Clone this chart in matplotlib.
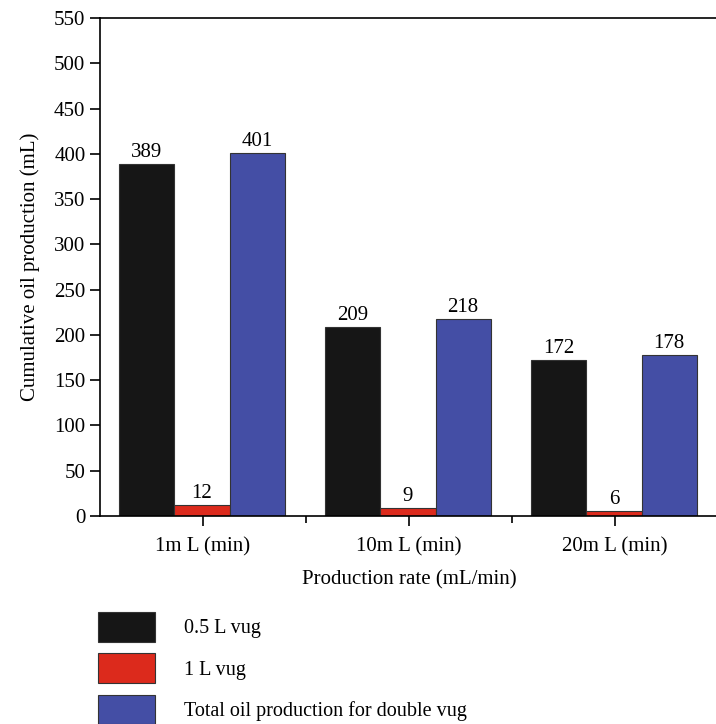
import matplotlib
matplotlib.use("Agg")
import matplotlib.pyplot as plt
import numpy as np

categories = ["1m L (min)", "10m L (min)", "20m L (min)"]
series_names = ["0.5 L vug", "1 L vug", "Total oil production for double vug"]
vug_05 = [389, 209, 172]
vug_1 = [12, 9, 6]
total = [401, 218, 178]
colors = ["#161616", "#dc2a1c", "#444ea5"]

FS = 15
plt.rcParams['font.family'] = ['Liberation Serif', 'DejaVu Serif']
plt.rcParams['font.size'] = FS

fig = plt.figure(figsize=(7.16, 7.24), dpi=100)
W, H = 716, 724
ax = fig.add_axes([100/W, 1-516/H, 618/W, (516-18)/H])

x = np.arange(len(categories))
w = 0.268
bars = []
for i, (vals, name, c) in enumerate(zip([vug_05, vug_1, total], series_names, colors)):
    b = ax.bar(x + (i-1)*w - 0.005, vals, w, color=c, edgecolor="#333333", linewidth=0.8, label=name)
    bars.append(b)
    for xi, v in zip(x + (i-1)*w - 0.005, vals):
        ax.text(xi, v + 2, str(v), ha="center", va="bottom", fontsize=FS)

ax.set_xlim(-0.5, 2.5)
ax.set_ylim(0, 550)
ax.set_yticks(np.arange(0, 551, 50))
ax.set_xticks(x)
ax.set_xticklabels(categories)
ax.set_xticks([0.5, 1.5], minor=True)
ax.tick_params(axis="both", which="major", direction="out", length=7, width=1.2, labelsize=FS)
ax.tick_params(axis="x", which="minor", direction="out", length=5, width=1.2)
ax.tick_params(axis="x", pad=8)
for s in ax.spines.values():
    s.set_linewidth(1.2)
ax.set_ylabel("Cumulative oil production (mL)", fontsize=FS, labelpad=10)
ax.set_xlabel("Production rate (mL/min)", fontsize=FS, labelpad=10)

fig.legend(handles=bars, labels=series_names, loc="upper left",
           bbox_to_anchor=(80/W, 1-594/H), frameon=False, fontsize=14.5,
           handlelength=2.84, handleheight=1.88, labelspacing=0.58, handletextpad=1.4)

fig.savefig("out.png", dpi=100)
